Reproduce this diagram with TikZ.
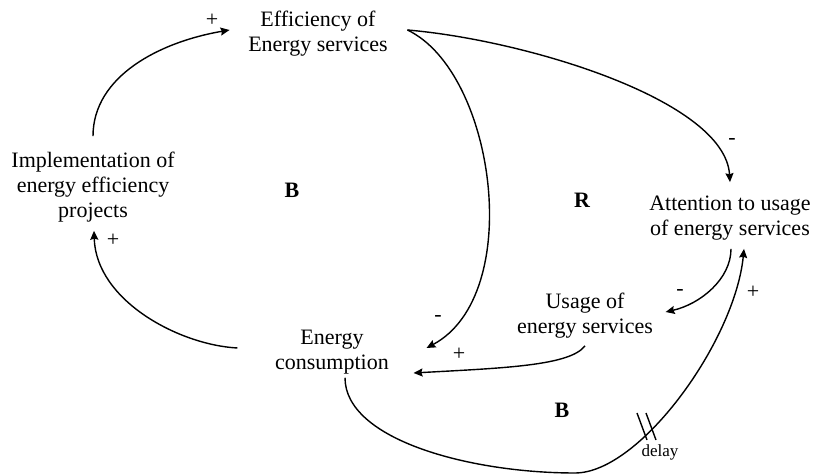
\documentclass[tikz,border=0pt]{standalone}
\usepackage{fontspec}
\setmainfont{Liberation Serif}
\usetikzlibrary{arrows.meta}

\begin{document}
\begin{tikzpicture}[x=0.5pt,y=-0.5pt,line width=0.7pt,>={Stealth[length=4.5pt,width=4pt,inset=0.6pt]}]
\tikzstyle{every node}+=[inner sep=0pt]
\tikzstyle{var}=[align=center,font=\fontsize{11}{12.5}\selectfont]
\tikzstyle{sign}=[font=\fontsize{11}{12.5}\selectfont]
\tikzstyle{looplbl}=[font=\fontsize{11}{12.5}\selectfont\bfseries]
\useasboundingbox (0,0) rectangle (814,475);
\node [var] (eff) at (318,33.5) {Efficiency of\\Energy services};
\node [var] (impl) at (93,187) {Implementation of\\energy efficiency\\projects};
\node [var] (cons) at (332,352) {Energy\\consumption};
\node [var] (usage) at (585,315.5) {Usage of\\energy services};
\node [var] (att) at (730,218) {Attention to usage\\of energy services};
\node [looplbl] (loopB1) at (292,190) {B};
\node [looplbl] (loopR) at (582,200) {R};
\node [looplbl] (loopB2) at (562,410) {B};
\coordinate (low) at (575,473);
\draw [->] ([shift={(0,-15)}]impl.north) .. controls +(0,-60) and +(-70,12) .. ([shift={(-18,-3.5)}]eff.west);
\node [sign] (s1) at (212,20) {+};
\draw [->] ([shift={(-37,-4)}]cons.west) .. controls +(-58,-3) and +(2,70) .. ([shift={(1,8)}]impl.south);
\node [sign] (s2) at (113,240) {+};
\draw [->] ([shift={(19,-3.5)}]eff.east) .. controls +(88,42) and +(99,-53) .. ([shift={(37,-4)}]cons.east);
\node [sign] (s3) at (438,318) {-};
\draw [->] ([shift={(19,-3.5)}]eff.east) .. controls +(118,10) and +(-5,-82) .. ([shift={(0,-13)}]att.north);
\node [sign] (s4) at (732,142) {-};
\draw [->] ([shift={(1,8)}]att.south) .. controls +(0,30) and +(35,-8) .. ([shift={(12,-3.5)}]usage.east);
\node [sign] (s5) at (680,293) {-};
\draw [->] ([shift={(0,7)}]usage.south) .. controls +(-15,20) and +(90,-5) .. ([shift={(24,21)}]cons.east);
\node [sign] (s6) at (459,354) {+};
\draw [->] ([shift={(13,3)}]cons.south) .. controls +(0,62) and +(-105,0) .. (low) .. controls +(65,0) and +(-9,92) .. ([shift={(14,8)}]att.south);
\node [sign] (s7) at (753,292) {+};
\draw (637,413) -- (647,440);
\draw (646,413) -- (656,440);
\node [font=\fontsize{8.5}{10}\selectfont] (delay) at (660,452) {delay};
\end{tikzpicture}
\end{document}
